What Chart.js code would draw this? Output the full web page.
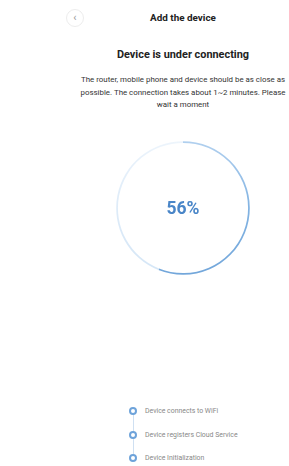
<!DOCTYPE html>
<html>
<head>
<meta charset="utf-8">
<script src="https://cdn.jsdelivr.net/npm/chart.js@4.4.0/dist/chart.umd.min.js"></script>
<style>
  html, body { margin: 0; padding: 0; background: #fff; }
  body { width: 289px; height: 466px; position: relative; overflow: hidden; font-family: Roboto, "Noto Sans", sans-serif; color: #333; }
  .abs { position: absolute; }
  #back { left: 66px; top: 9px; width: 18px; height: 18px; border: 1px solid #ededed; border-radius: 50%; box-sizing: border-box; color: #999; font-size: 11px; line-height: 15px; text-align: center; }
  #title { left: 83px; width: 200px; top: 12px; text-align: center; font-weight: bold; font-size: 9.9px; color: #222; }
  #heading { left: 83px; width: 200px; top: 48px; text-align: center; font-weight: bold; font-size: 10.9px; color: #222; }
  #desc { left: 76px; width: 214px; top: 74px; text-align: center; font-size: 7.9px; line-height: 12.5px; color: #333; }
  #ringWrap { left: 113px; top: 138px; width: 140px; height: 140px; }
  #pct { left: 113px; width: 140px; top: 198px; text-align: center; font-weight: bold; font-size: 17.5px; color: #4a86c8; }
  .step { left: 145px; font-size: 6.9px; color: #888; }
  .dot { width: 8px; height: 8px; border-radius: 50%; background: #fff; border: 2.4px solid #6ea3da; box-sizing: border-box; }
  #line { left: 132.5px; top: 414px; width: 1px; height: 44px; background: #cfe0f2; }
</style>
</head>
<body>
<div id="back" class="abs">&lsaquo;</div>
<div id="title" class="abs">Add the device</div>
<div id="heading" class="abs">Device is under connecting</div>
<div id="desc" class="abs">The router, mobile phone and device should be as close as possible. The connection takes about 1~2 minutes. Please wait a moment</div>
<div id="ringWrap" class="abs"><canvas id="ring" width="140" height="140"></canvas></div>
<div id="pct" class="abs"></div>
<div id="line" class="abs"></div>
<div id="steps"></div>
<script>
// progress ring values
const progressLabels = ['Connected', 'Remaining'];
const progressValues = [56, 44];
const stepLabels = ['Device connects to WiFi', 'Device registers Cloud Service', 'Device Initialization'];
const stepTops = [407, 431, 454];

document.getElementById('pct').textContent = progressValues[0] + '%';

const steps = document.getElementById('steps');
stepLabels.forEach((s, i) => {
    const d = document.createElement('div');
    d.className = 'abs dot';
    d.style.left = '129px';
    d.style.top = stepTops[i] + 'px';
    steps.appendChild(d);
    const t = document.createElement('div');
    t.className = 'abs step';
    t.style.top = (stepTops[i] - 0.5) + 'px';
    t.textContent = s;
    steps.appendChild(t);
});

const ctx = document.getElementById('ring').getContext('2d');
const gradDone = ctx.createLinearGradient(70, 0, 70, 140);
gradDone.addColorStop(0, '#b3d1ef');
gradDone.addColorStop(0.5, '#82b3e2');
gradDone.addColorStop(1, '#72a6da');
const gradRest = ctx.createLinearGradient(20, 140, 70, 0);
gradRest.addColorStop(0, '#d3e5f6');
gradRest.addColorStop(1, '#eef5fc');

// cutout is a fraction of the outer radius in v4, so keep the ring thin
new Chart(ctx, {
    type: 'doughnut',
    data: {
        labels: progressLabels,
        datasets: [{
            data: progressValues,
            backgroundColor: [gradDone, gradRest],
            borderWidth: 0
        }]
    },
    options: {
        responsive: false,
        animation: false,
        cutout: '97.4%',
        radius: 66.8,
        events: [],
        plugins: { legend: { display: false }, tooltip: { enabled: false } },
        layout: { padding: 0 }
    }
});
</script>
</body>
</html>
